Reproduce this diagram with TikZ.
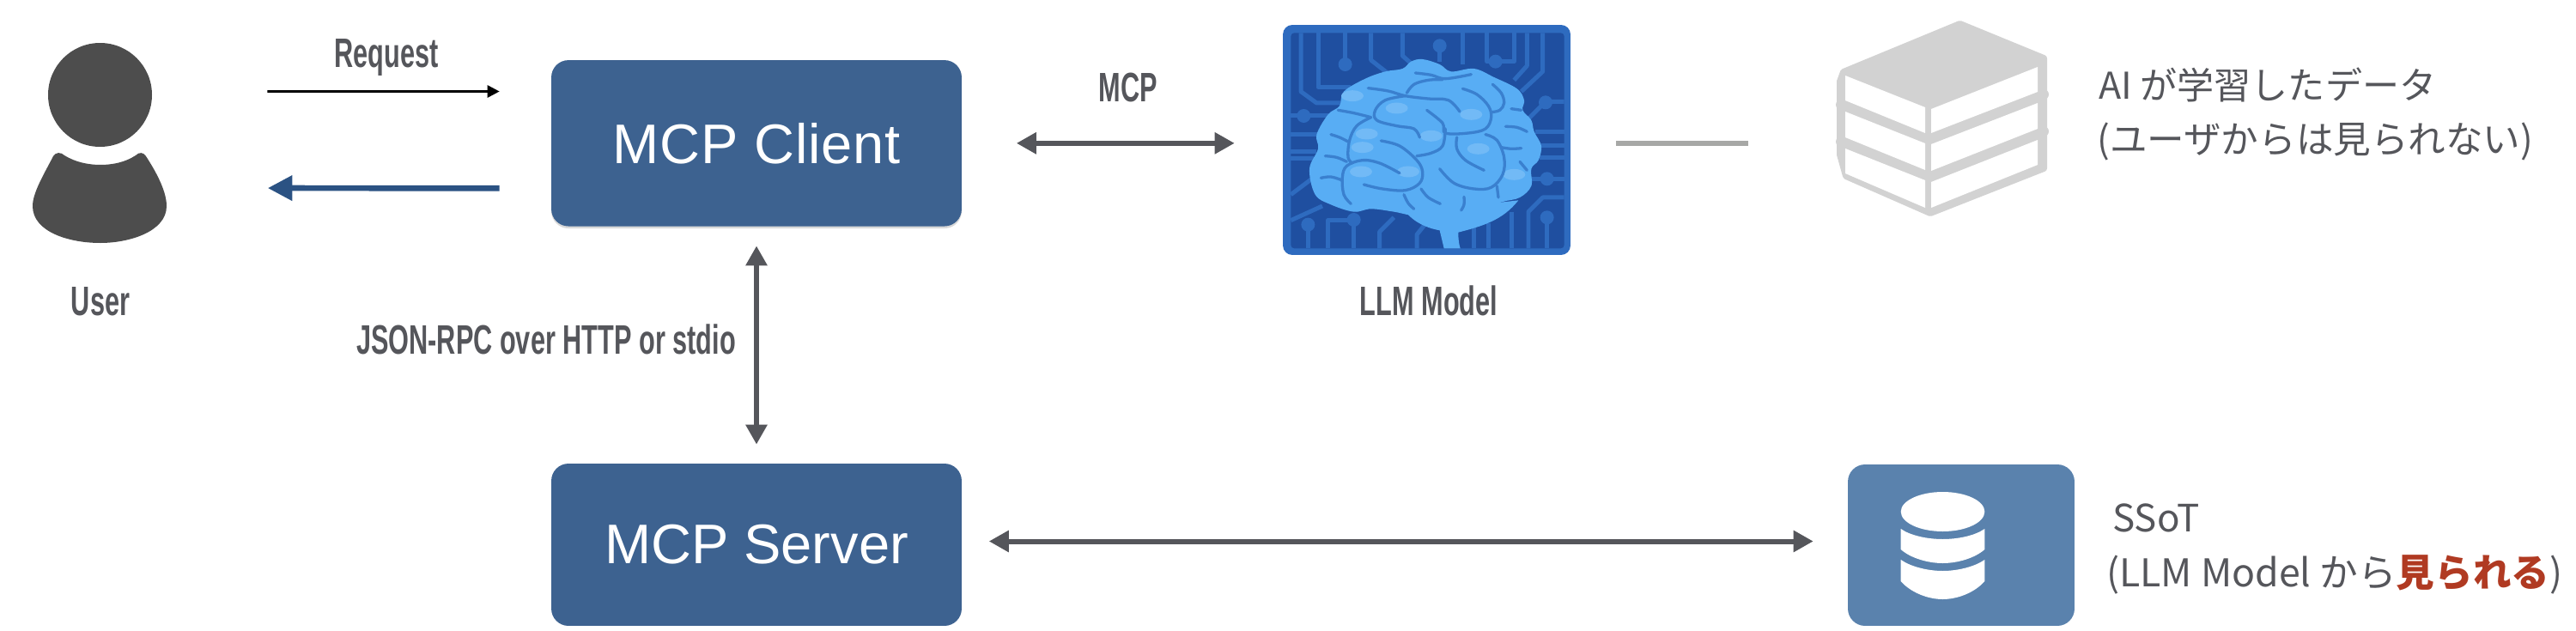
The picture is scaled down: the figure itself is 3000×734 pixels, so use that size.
\documentclass[tikz,border=0pt]{standalone}
\usepackage{fontspec}
\setmainfont{Liberation Sans}
\newfontfamily\condfont[FakeStretch=0.64]{Liberation Sans}
\newfontfamily\cjk{Noto Sans CJK JP}
\usetikzlibrary{arrows.meta,shadows}
\definecolor{txtgray}{HTML}{55565B}
\definecolor{boxblue}{HTML}{3D6290}
\definecolor{dbblue}{HTML}{5A82AD}
\definecolor{respblue}{HTML}{2B5283}
\definecolor{bookgray}{HTML}{D2D2D2}
\definecolor{linegray}{HTML}{A7A8A6}
\definecolor{usergray}{HTML}{4D4D4D}
\definecolor{redtxt}{HTML}{B03A22}
\definecolor{panelout}{HTML}{2E6BBF}
\definecolor{paneldark}{HTML}{1F4FA0}
\definecolor{brainfill}{HTML}{58ADF4}
\definecolor{brainlight}{HTML}{72BAF6}
\definecolor{brainfold}{HTML}{3A80CF}
\tikzset{
  mainbox/.style={rectangle,rounded corners=.4cm,fill=boxblue,text=white,inner sep=0pt,
    minimum width=9.56cm,font=\fontsize{37}{40}\selectfont},
  condlabel/.style={anchor=base,inner sep=0pt,text=txtgray,font=\condfont\bfseries\fontsize{27.3}{30}\selectfont},
  jplabel/.style={anchor=base west,inner sep=0pt,text=txtgray},
  phantombox/.style={rectangle,inner sep=0pt},
  twoway/.style={draw=txtgray,line width=.12cm,{Triangle[length=.46cm,width=.48cm]}-{Triangle[length=.46cm,width=.48cm]}},
  trace/.style={draw=panelout,line width=.1cm,line join=round},
  tracedot/.style={fill=panelout},
  fold/.style={draw=brainfold,line width=.066cm,line cap=round,line join=round},
  glow/.style={fill=brainlight},
}
\begin{document}
\begin{tikzpicture}[x=.02cm,y=-.02cm]
\useasboundingbox (0,0) rectangle (3000,734);

% user icon
\fill[usergray] (116.5,110.5) ellipse [x radius=60.5,y radius=60.5];
\fill[usergray] (62,182) .. controls (65,177) and (71,177) .. (75,181)
  .. controls (88,189) and (103,192) .. (117,192)
  .. controls (131,192) and (146,189) .. (158,181)
  .. controls (162,177) and (167,177) .. (170,182)
  .. controls (185,205) and (194,225) .. (194,240)
  .. controls (194,270) and (150,283) .. (117,283)
  .. controls (80,283) and (38,270) .. (38,240)
  .. controls (38,225) and (50,205) .. (62,182) -- cycle;
\node[phantombox,minimum width=3.12cm,minimum height=4.66cm] (user) at (116,166.5) {};
\node[condlabel] (userlabel) at (117,367) {User};

% main boxes
\node[mainbox,minimum height=3.87cm,drop shadow={shadow xshift=0cm,shadow yshift=-.05cm,opacity=.3}] (client) at (881,166.8) {\addfontfeature{LetterSpace=1.2}MCP Client};
\node[mainbox,minimum height=3.78cm] (server) at (881,634.5) {MCP Server};

% LLM panel
\node[rectangle,rounded corners=.22cm,fill=panelout,minimum width=6.7cm,minimum height=5.36cm,inner sep=0pt] (llm) at (1661.5,163) {};
\begin{scope}[shift={(1450,0)},x=.02cm/3,y=-.02cm/3]
  \fill[paneldark,rounded corners=.08cm] (160,115) rectangle (1115,868);
  \foreach \p in {
    {(195,115)--(195,320)--(250,360)--(340,360)},
    {(255,115)--(255,305)--(370,305)},
    {(350,115)--(350,225)},
    {(440,115)--(440,210)--(510,265)},
    {(550,115)--(550,195)--(590,230)},
    {(680,160)--(680,215)},
    {(760,115)--(760,225)},
    {(845,115)--(845,215)--(940,215)--(940,115)},
    {(985,115)--(985,230)--(940,280)},
    {(1040,115)--(1040,250)--(965,320)},
    {(1115,355)--(1050,355)--(985,420)},
    {(160,405)--(300,405)},
    {(160,470)--(260,470)},
    {(160,530)--(250,530)},
    {(160,555)--(240,555)},
    {(160,680)--(240,620)},
    {(160,770)--(270,720)},
    {(220,868)--(220,785)},
    {(290,868)--(290,770)--(380,770)--(380,868)},
    {(470,868)--(470,810)--(520,760)},
    {(600,868)--(600,820)--(640,770)},
    {(800,868)--(800,780)},
    {(850,868)--(850,780)},
    {(930,868)--(930,740)},
    {(990,868)--(990,740)--(1040,690)--(1115,690)},
    {(1055,868)--(1055,760)},
    {(1015,460)--(1115,460)},
    {(1030,510)--(1115,510)},
    {(1030,550)--(1115,550)},
    {(1000,625)--(1115,625)}%
  }{\draw[trace] \p;}
  \foreach \q in {(350,225),(680,160),(875,215),(205,405),(220,785),(380,768),(1055,625),(1055,760),(1050,358)}
    {\fill[tracedot] \q circle[radius=.16cm];}
  % stem
  \fill[brainfill] (565,745) .. controls (600,785) and (650,800) .. (680,805) -- (695,868) -- (752,868)
    .. controls (745,845) and (745,825) .. (745,812) .. controls (830,790) and (900,770) .. (955,700) -- cycle;
  % silhouette
  \fill[brainfill] plot[smooth cycle,tension=.6] coordinates {
    (620,207)(680,225)(720,250)(800,240)(870,270)(950,310)(975,350)(970,385)(1000,420)(1010,460)
    (1035,510)(1025,560)(1000,590)(1000,650)(960,690)(900,705)(830,730)(760,745)(690,750)(600,755)
    (520,740)(440,730)(380,740)(300,715)(245,680)(225,590)(255,520)(250,470)(290,400)(330,370)
    (345,320)(420,275)(490,250)(550,240)(580,215)};
  % highlights
  \foreach \e in {(530,378),(790,400),(650,475),(425,468),(410,515),(815,520),(570,600),(405,600),(375,335),(940,610)}
    {\fill[glow] \e ellipse[x radius=.26cm,y radius=.13cm];}
  % folds
  \foreach \f in {
    {(595,255)(650,262)(700,275)(790,260)},
    {(565,325)(590,295)(640,280)(690,278)},
    {(430,308)(500,318)(560,335)(640,345)(710,350)(750,390)},
    {(760,310)(810,330)(850,370)(860,410)(840,450)(780,465)(700,465)(690,430)(635,385)},
    {(865,295)(895,325)(905,360)(890,385)(860,392)},
    {(930,380)(965,385)},
    {(910,442)(950,445)(985,460)},
    {(895,515)(930,520)(965,518)},
    {(960,565)(985,595)},
    {(325,385)(380,395)(440,410)},
    {(560,335)(490,350)(455,385)(460,420)(530,440)(590,450)(610,480)},
    {(440,410)(390,440)(365,490)(360,550)(375,570)},
    {(300,470)(330,480)(360,495)},
    {(280,545)(320,550)(355,565)},
    {(265,622)(300,618)(340,630)},
    {(370,712)(345,680)(340,620)(355,580)(410,560)(470,570)(540,605)},
    {(475,492)(540,510)(600,560)(620,600)(610,640)(560,665)(480,660)(415,645)},
    {(700,450)(690,510)(650,535)(600,545)},
    {(740,480)(740,520)(770,560)(835,595)},
    {(680,590)(730,640)(800,660)(860,655)(900,610)(905,550)(880,490)(840,470)},
    {(555,680)(570,710)(590,730)},
    {(615,660)(640,690)(682,712)},
    {(765,688)(765,715)(755,735)},
    {(880,650)(885,690)}%
  }{\draw[fold] plot[smooth,tension=.6] coordinates {\f};}
\end{scope}
\node[condlabel] (llmlabel) at (1664,367) {LLM Model};

% books icon
\fill[bookgray,draw=bookgray,line width=.16cm,line join=round]
  (2282.5,28) -- (2380,68) -- (2380,196) -- (2248,248) -- (2150,205) -- (2143,180) -- (2143,95) -- (2147,84) -- cycle;
\foreach \b in {(2380,110),(2380,153),(2144,122),(2144,165)}
  {\fill[bookgray] \b circle[radius=.12cm];}
\fill[white] (2149,88) -- (2242,125) -- (2242,155) -- (2149,117) -- cycle;
\fill[white] (2249,127) -- (2373,78) -- (2373,107) -- (2249,155) -- cycle;
\fill[white] (2149,130) -- (2242,167) -- (2242,198) -- (2149,160) -- cycle;
\fill[white] (2249,168) -- (2373,120) -- (2373,150) -- (2249,199) -- cycle;
\fill[white] (2149,173) -- (2242,210) -- (2242,242) -- (2149,202) -- cycle;
\fill[white] (2249,212) -- (2373,163) -- (2373,192) -- (2249,242) -- cycle;
\node[phantombox,minimum width=4.9cm,minimum height=4.56cm] (books) at (2261.5,138) {};
\node[jplabel,font=\cjk\fontsize{24.5}{28}\selectfont] (booktext1) at (2444,115) {AI が学習したデータ};
\node[jplabel,font=\cjk\fontsize{24.8}{28}\selectfont] (booktext2) at (2442,178) {(ユーザからは見られない)};

% database icon
\node[rectangle,rounded corners=.4cm,fill=dbblue,minimum width=5.28cm,minimum height=3.76cm,inner sep=0pt] (db) at (2284,635) {};
\fill[white] (2262.5,596) ellipse[x radius=48.8,y radius=23];
\fill[white] (2213.7,616) .. controls (2225,624) and (2245,628) .. (2262.5,628)
  .. controls (2280,628) and (2300,624) .. (2311.3,616) -- (2311.3,640)
  .. controls (2300,650) and (2280,656) .. (2262.5,656)
  .. controls (2245,656) and (2225,650) .. (2213.7,640) -- cycle;
\fill[white] (2213.7,652) .. controls (2225,660) and (2245,665) .. (2262.5,665)
  .. controls (2280,665) and (2300,660) .. (2311.3,652) -- (2311.3,677)
  .. controls (2300,690) and (2280,698) .. (2262.5,698)
  .. controls (2245,698) and (2225,690) .. (2213.7,677) -- cycle;
\node[jplabel,font=\cjk\fontsize{25}{28}\selectfont] (dbtext1) at (2460,619) {SSoT};
\node[jplabel,font=\cjk\fontsize{25.4}{28}\selectfont] (dbtext2) at (2453,683) {(LLM Model から{\color{redtxt}\bfseries 見られる})};

% connectors
\draw[line width=.054cm,black,shorten <=2.34cm,shorten >=1.2cm,-{Triangle[length=.28cm,width=.28cm]}]
  ([yshift=1.2cm]user.east) -- ([yshift=1.206cm]client.west);
\draw[line width=.134cm,respblue,shorten <=1.2cm,shorten >=2.35cm,-{Triangle[length=.57cm,width=.56cm]}]
  ([yshift=-1.05cm]client.west) -- ([yshift=-1.05cm]user.east);
\draw[twoway,shorten <=1.27cm,shorten >=1.12cm] (client.east) -- (client.east -| llm.west);
\draw[twoway,shorten <=.45cm,shorten >=.44cm] (client.south) -- (server.north);
\draw[twoway,shorten <=.63cm,shorten >=.8cm] ([yshift=.08cm]server.east) -- ([yshift=.08cm]server.east -| db.west);
\draw[line width=.12cm,linegray,shorten <=1.06cm,shorten >=2.06cm] ([yshift=-.074cm]llm.east) -- ([yshift=-.074cm]llm.east -| books.west);

% connector labels
\node[condlabel] (reqlabel) at (450,78) {Request};
\node[condlabel] (mcplabel) at (1314,118) {MCP};
\node[condlabel] (rpclabel) at (636,412) {JSON-RPC over HTTP or stdio};
\end{tikzpicture}
\end{document}
